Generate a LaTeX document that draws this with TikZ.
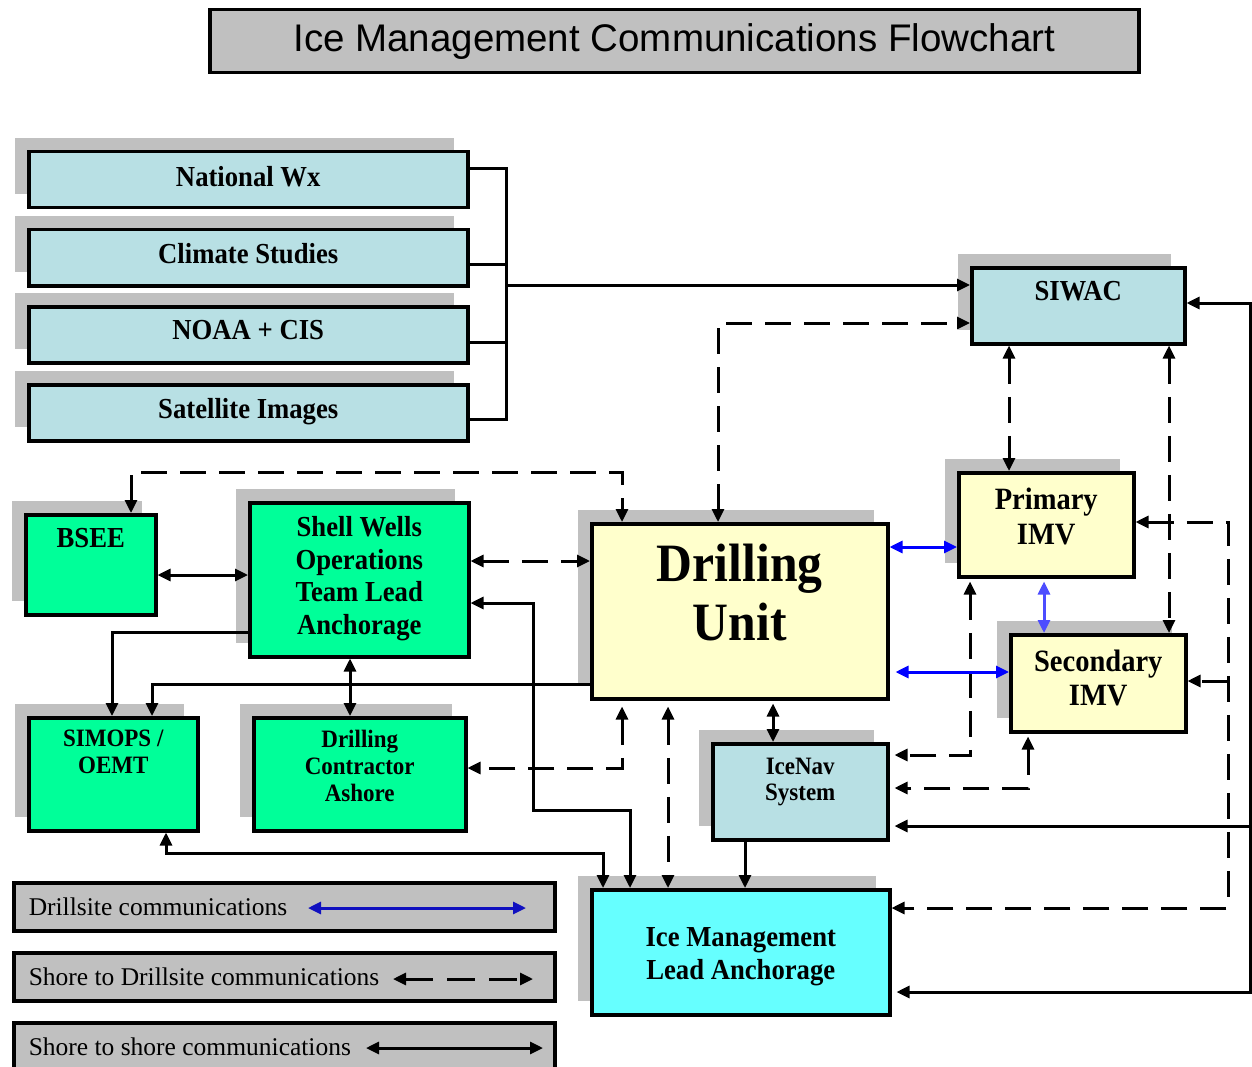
\documentclass[tikz,border=0pt]{standalone}
\usepackage{fontspec}
\setmainfont{Liberation Serif}[FakeStretch=0.92]
\newfontfamily\legfont{Liberation Serif}
\newfontfamily\titlefont{Liberation Sans}
\usetikzlibrary{arrows.meta,shadows}
\definecolor{shgray}{RGB}{192,192,192}
\definecolor{lblue}{RGB}{184,224,228}
\definecolor{lgreen}{RGB}{0,255,153}
\definecolor{lyellow}{RGB}{255,255,204}
\definecolor{lcyan}{RGB}{102,255,255}
\definecolor{darrow}{RGB}{0,0,255}
\definecolor{larrow}{RGB}{77,77,255}
\definecolor{legblue}{RGB}{16,16,192}
\newcommand\bx[4]{\parbox[c][#2pt][t]{#1pt}{\centering\vspace*{#3pt}#4\par}}
\newcommand\lgx[2]{\parbox[c][#1pt][t]{541pt}{\raggedright\vspace*{15pt}\hspace*{15pt}\legfont\fontsize{25.5}{28}\selectfont #2\par}}
\begin{document}
\begin{tikzpicture}[x=1pt,y=-1pt,
  box/.style={draw=black,line width=3.5pt,inner sep=0pt,anchor=north west,font=\bfseries,
    drop shadow={shadow xshift=-14pt,shadow yshift=14pt,fill=shgray,opacity=1}},
  legbox/.style={draw=black,line width=3.5pt,inner sep=0pt,anchor=north west,fill=shgray},
  conn/.style={line width=3pt,>={Triangle[length=13pt,width=12pt]}},
  dconn/.style={conn,dash pattern=on 26pt off 13pt},
  bconn/.style={conn,color=darrow}]
\useasboundingbox (0,0) rectangle (1252,1067);

% title
\node[draw=black,line width=3.5pt,fill=shgray,anchor=north west,inner sep=0pt] (title) at (208,8)
  {\parbox[c][63pt][c]{929pt}{\centering\titlefont\fontsize{38.5}{40}\selectfont Ice Management Communications Flowchart}};

% source boxes
\node[box,fill=lblue] (nwx) at (27,150) {\bx{439}{56}{15}{\fontsize{29}{32}\selectfont National Wx}};
\node[box,fill=lblue] (clim) at (27,228) {\bx{439}{56}{14}{\fontsize{29}{32}\selectfont Climate Studies}};
\node[box,fill=lblue] (noaa) at (27,305) {\bx{439}{56}{14}{\fontsize{29}{32}\selectfont NOAA + CIS}};
\node[box,fill=lblue] (sat) at (27,383) {\bx{439}{56}{14}{\fontsize{29}{32}\selectfont Satellite Images}};

\node[box,fill=lblue] (siwac) at (970,266) {\bx{213}{76}{14}{\fontsize{29}{32}\selectfont SIWAC}};
\node[box,fill=lgreen] (bsee) at (24,513) {\bx{130}{100}{14}{\fontsize{29}{32}\selectfont BSEE}};
\node[box,fill=lgreen] (shell) at (248,501) {\bx{219}{154}{14}{\fontsize{29}{32.5}\selectfont Shell Wells\\Operations\\Team Lead\\Anchorage}};
\node[box,fill=lgreen] (simops) at (27,716) {\bx{169}{113}{12.5}{\fontsize{25}{27}\selectfont SIMOPS /\\OEMT}};
\node[box,fill=lgreen] (dc) at (252,716) {\bx{212}{113}{12.5}{\fontsize{25}{27}\selectfont Drilling\\Contractor\\Ashore}};
\node[box,fill=lyellow] (du) at (590,522) {\bx{296}{175}{20.5}{\fontsize{54}{59}\selectfont Drilling\\Unit}};
\node[box,fill=lyellow] (pimv) at (957,471) {\bx{175}{104}{15.5}{\fontsize{31}{35}\selectfont Primary\\IMV}};
\node[box,fill=lyellow] (simv) at (1009,633) {\bx{175}{97}{15.5}{\fontsize{31}{34}\selectfont Secondary\\IMV}};
\node[box,fill=lblue] (icenav) at (711,742) {\bx{175}{96}{14.5}{\fontsize{25}{26}\selectfont IceNav\\System}};
\node[box,fill=lcyan] (iml) at (590,888) {\bx{298}{125}{38}{\fontsize{29}{33}\selectfont Ice Management\\Lead Anchorage}};

% legend
\node[legbox] (leg1) at (12,881) {\lgx{48}{Drillsite communications}};
\node[legbox] (leg2) at (12,951) {\lgx{48}{Shore to Drillsite communications}};
\node[legbox] (leg3) at (12,1021) {\lgx{54}{Shore to shore communications}};
\coordinate (l1a) at (308,908); \coordinate (l1b) at (526,908);
\coordinate (l2a) at (393,979); \coordinate (l2b) at (533,979);
\coordinate (l3a) at (366,1048); \coordinate (l3b) at (543,1048);
\draw[conn,color=legblue,<->] (l1a) -- (l1b);
\draw[conn,<->,dash pattern=on 28pt off 14pt] (l2a) -- (l2b);
\draw[conn,<->] (l3a) -- (l3b);

% bracket to SIWAC
\coordinate (bt) at (506,169); \coordinate (bb) at (506,419); \coordinate (bm) at (506,285);
\draw[conn] (nwx.east |- bt) -- (bt) -- (bb) -- (sat.east |- bb);
\draw[conn] (clim.east |- 0,265) -- (506,265);
\draw[conn] (noaa.east |- 0,342) -- (506,342);
\draw[conn,->] (bm) -- (siwac.west |- bm);

% shore to drillsite (dashed)
\draw[dconn,<->] (du.north -| 718,0) |- (siwac.west |- 0,323);
\draw[dconn,<->] (bsee.north -| 131,0) |- (622,472) -- (du.north -| 622,0);
\draw[dconn,<->] (shell.east |- 0,561) -- (du.west |- 0,561);
\draw[dconn,<->] (du.south -| 622,0) ++(0,6) |- (dc.east |- 0,768);
\draw[dconn,<->] ([yshift=-6pt]du.south -| 668,0) -- (iml.north -| 668,0);
\draw[dconn,<->] (siwac.south -| 1009,0) -- (pimv.north -| 1009,0);
\draw[dconn,<->] (siwac.south -| 1169,0) -- (simv.north -| 1169,0);
\draw[dconn,<->,shorten <=3pt,shorten >=5pt] (pimv.south -| 970,0) |- (icenav.east |- 0,755);
\draw[dconn,<->,shorten <=3pt,shorten >=5pt] (simv.south -| 1028,0) |- (icenav.east |- 0,788);
\coordinate (rd1) at (1228,522); \coordinate (rd2) at (1228,908); \coordinate (rd3) at (1228,681);
\draw[dconn,<->] (pimv.east |- rd1) -- (rd1) -- (rd2) -- (iml.east |- rd2);
\draw[dconn,->] (rd3) -- (simv.east |- rd3);

% shore to shore (solid)
\draw[conn,<->] (bsee.east |- 0,575) -- (shell.west |- 0,575);
\draw[conn,<->] (shell.east |- 0,603) -- (533,603) -- (533,810) -- (630,810) -- (iml.north -| 630,0);
\draw[conn,->] (shell.west |- 0,632) -| (simops.north -| 112,0);
\draw[conn,->] (du.west |- 0,684) -| (simops.north -| 152,0);
\draw[conn,<->] (shell.south -| 350,0) -- (dc.north -| 350,0);
\draw[conn,<->] (simops.south -| 166,0) |- (603,853) -- (iml.north -| 603,0);
\draw[conn,<->,shorten <=3pt] (du.south -| 773,0) -- (icenav.north -| 773,0);
\draw[conn,->] (icenav.south -| 745,0) -- (iml.north -| 745,0);
\coordinate (rs1) at (1250,303); \coordinate (rs2) at (1250,992); \coordinate (rs3) at (1250,826);
\draw[conn,<->,shorten >=5pt] (siwac.east |- rs1) -- (rs1) -- (rs2) -- (iml.east |- rs2);
\draw[conn,->,shorten >=5pt] (rs3) -- (icenav.east |- rs3);

% drillsite (blue)
\draw[bconn,<->] (du.east |- 0,547) -- (pimv.west |- 0,547);
\draw[bconn,<->,shorten <=6pt] (du.east |- 0,672) -- (simv.west |- 0,672);
\draw[conn,color=larrow,<->,shorten <=3pt] (pimv.south -| 1044,0) -- (simv.north -| 1044,0);
\end{tikzpicture}
\end{document}
